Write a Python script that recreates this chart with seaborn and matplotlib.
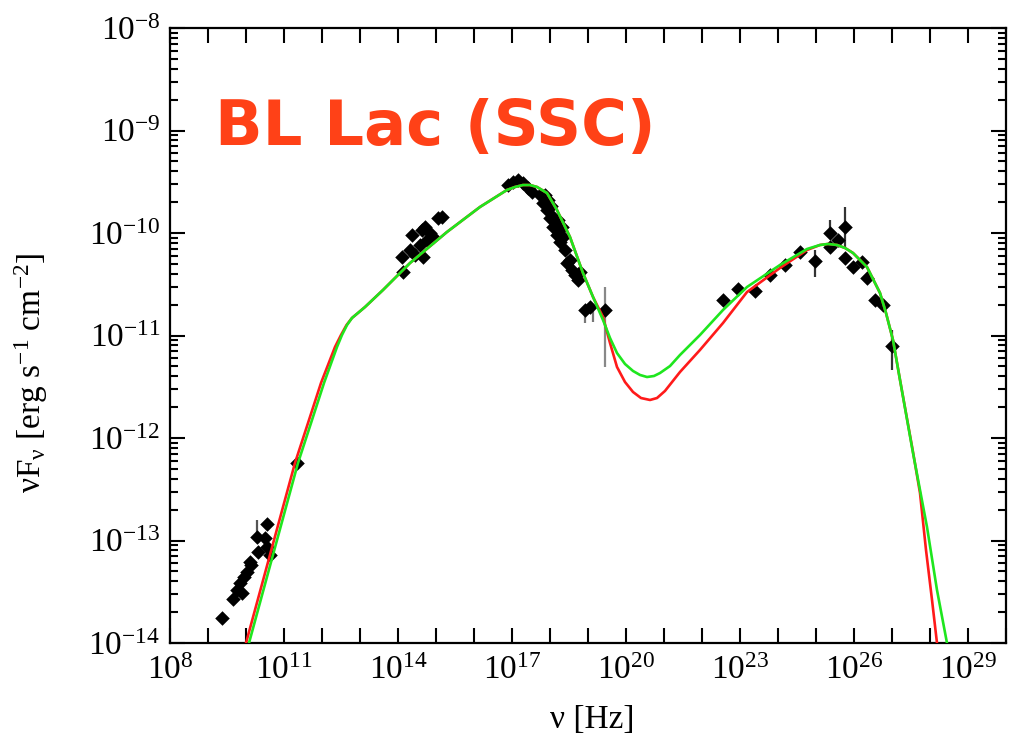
import numpy as np
import pandas as pd
import matplotlib
matplotlib.use("Agg")
import matplotlib.pyplot as plt
import seaborn as sns
from matplotlib.ticker import FixedLocator, FixedFormatter, LogLocator, NullFormatter

# SSC model curves, stored as log10(nu / Hz) and log10(nuFnu / erg s^-1 cm^-2)
green_lognu = [10.026, 10.079, 11.368, 11.711, 12.053, 12.395, 12.526, 12.658, 12.789,
               12.947, 13.132, 13.605, 14.316, 15.289, 16.158, 16.868, 17.079, 17.289,
               17.474, 17.658, 17.921, 18.184, 18.526, 18.868, 19.132, 19.395, 19.579,
               19.763, 19.974, 20.184, 20.368, 20.553, 20.737, 20.895, 21.158, 21.421,
               21.947, 22.553, 23.184, 24.053, 24.763, 25.105, 25.316, 25.553, 25.763,
               25.974, 26.342, 26.684, 26.842, 27.026, 27.211, 27.553, 27.921, 28.184,
               28.447, 28.526]
green_logf = [-14.068, -14.0, -12.244, -11.854, -11.463, -11.112, -10.995, -10.898, -10.829,
              -10.780, -10.722, -10.556, -10.293, -9.990, -9.746, -9.580, -9.551, -9.532,
              -9.532, -9.551, -9.610, -9.776, -10.039, -10.390, -10.624, -10.849, -11.024,
              -11.171, -11.278, -11.346, -11.385, -11.405, -11.395, -11.366, -11.298, -11.190,
              -10.995, -10.751, -10.527, -10.312, -10.156, -10.117, -10.107, -10.117, -10.146,
              -10.195, -10.332, -10.585, -10.780, -11.044, -11.434, -12.146, -12.868, -13.483,
              -14.0, -14.166]

red_lognu = [9.947, 10.0, 11.289, 11.632, 11.974, 12.342, 12.500, 12.645, 12.789,
             12.947, 13.132, 13.605, 14.316, 15.289, 16.158, 16.868, 17.079, 17.289,
             17.474, 17.658, 17.921, 18.184, 18.526, 18.868, 19.132, 19.395, 19.579,
             19.763, 19.974, 20.184, 20.395, 20.632, 20.816, 21.026, 21.421, 21.947,
             22.553, 23.184, 24.053, 24.763, 25.105, 25.316, 25.553, 25.763, 25.974,
             26.342, 26.684, 26.842, 27.026, 27.211, 27.553, 27.737, 27.895, 28.053,
             28.184, 28.237]
red_logf = [-14.068, -14.0, -12.244, -11.854, -11.463, -11.112, -10.995, -10.898, -10.829,
            -10.780, -10.722, -10.556, -10.293, -9.990, -9.746, -9.580, -9.551, -9.532,
            -9.532, -9.551, -9.610, -9.776, -10.039, -10.390, -10.624, -10.820, -11.073,
            -11.307, -11.454, -11.551, -11.610, -11.629, -11.610, -11.541, -11.356, -11.141,
            -10.878, -10.576, -10.341, -10.166, -10.117, -10.107, -10.117, -10.146, -10.195,
            -10.332, -10.585, -10.780, -11.044, -11.434, -12.137, -12.537, -13.093, -13.580,
            -14.0, -14.166]

# Observed SED points (radio, optical, X-ray, gamma-ray)
obs_lognu = [9.368, 9.658, 9.763, 9.895, 9.842, 9.947, 10.026, 10.132, 10.105, 10.316,
             10.289, 10.553, 10.5, 10.632, 10.553, 11.342,
             14.132, 14.105, 14.316, 14.368, 14.632, 14.711, 14.763, 14.842, 14.579,
             14.447, 15.053, 15.158, 14.921, 14.658,
             16.895, 17.026, 17.158, 17.289, 17.421, 17.526, 17.737, 17.816, 17.921,
             18.0, 18.079, 18.184, 18.263, 18.342, 18.316, 18.211, 18.447, 18.579,
             18.658, 18.737, 18.789, 18.526, 18.079, 17.947, 17.868, 18.026, 18.158,
             18.237, 18.395, 18.921, 19.053, 19.447,
             22.553, 22.947, 23.395, 23.789, 24.184, 24.579, 24.974, 25.368, 25.368,
             25.579, 25.763, 25.763, 25.974, 26.211, 26.342, 26.553, 26.763, 27.0]
obs_logf = [-13.756, -13.571, -13.483, -13.512, -13.415, -13.356, -13.307, -13.239, -13.210, -13.112,
            -12.966, -12.839, -12.976, -13.141, -13.063, -12.244,
            -10.380, -10.234, -10.166, -10.020, -9.971, -9.941, -10.068, -10.0, -10.117,
            -10.215, -9.854, -9.844, -10.039, -10.234,
            -9.532, -9.502, -9.483, -9.512, -9.561, -9.600, -9.629, -9.707, -9.776,
            -9.854, -9.941, -10.020, -10.088, -10.039, -9.941, -9.873, -10.293, -10.361,
            -10.410, -10.459, -10.380, -10.263, -9.844, -9.678, -9.629, -9.737, -9.893,
            -9.971, -10.166, -10.751, -10.722, -10.751,
            -10.654, -10.546, -10.566, -10.410, -10.312, -10.185, -10.273, -10.0, -10.137,
            -10.068, -9.941, -10.244, -10.332, -10.283, -10.439, -10.654, -10.702, -11.102]

# Vertical error bars: frequency, lower and upper flux bounds (log10)
err_lognu = [10.289, 18.921, 19.132, 19.447, 24.974, 25.368, 25.763, 27.0]
err_lo = [-12.995, -10.878, -10.868, -11.307, -10.429, -10.0, -10.137, -11.337]
err_hi = [-12.800, -10.702, -10.722, -10.527, -10.166, -9.873, -9.746, -10.946]
err_colors = ["#555555", "#777777", "#777777", "#888888", "#333333", "#333333", "#333333", "#333333"]

# Axis decades
x_major_exps = list(range(8, 31))
x_label_exps = list(range(8, 30, 3))
y_major_exps = list(range(-14, -7))

title_text = "BL Lac (SSC)"

sns.set_theme(style="ticks")
plt.rcParams.update({
    "font.family": ["Liberation Serif", "DejaVu Serif"],
    "mathtext.fontset": "custom",
    "mathtext.rm": "Liberation Serif",
    "mathtext.it": "Liberation Serif:italic",
    "mathtext.bf": "Liberation Serif:bold",
    "axes.linewidth": 1.6,
    "axes.edgecolor": "black",
})

fig = plt.figure(figsize=(10.2, 7.39), dpi=100)
ax = fig.add_axes([170 / 1020, 1 - 643 / 739, 836 / 1020, 615 / 739])
ax.set_xscale("log")
ax.set_yscale("log")

green = pd.DataFrame({"nu": np.power(10.0, green_lognu), "f": np.power(10.0, green_logf)})
red = pd.DataFrame({"nu": np.power(10.0, red_lognu), "f": np.power(10.0, red_logf)})
obs = pd.DataFrame({"nu": np.power(10.0, obs_lognu), "f": np.power(10.0, obs_logf)})

ax.vlines(np.power(10.0, err_lognu), np.power(10.0, err_lo), np.power(10.0, err_hi),
          colors=err_colors, linewidth=1.6, zorder=2)
sns.scatterplot(data=obs, x="nu", y="f", marker="D", s=55, color="black",
                linewidth=0, ax=ax, zorder=3)
sns.lineplot(data=red, x="nu", y="f", color="#ff1a1a", linewidth=1.9,
             estimator=None, sort=False, ax=ax, zorder=4)
sns.lineplot(data=green, x="nu", y="f", color="#1ee61e", linewidth=1.9,
             estimator=None, sort=False, ax=ax, zorder=5)

ax.set_xlim(1e8, 1e30)
ax.set_ylim(1e-14, 1e-8)

ax.xaxis.set_major_locator(FixedLocator([10.0 ** k for k in x_major_exps]))
ax.xaxis.set_major_formatter(FixedFormatter(
    [(r"$10^{%d}$" % k) if k in x_label_exps else "" for k in x_major_exps]))
ax.xaxis.set_minor_locator(FixedLocator([]))
ax.yaxis.set_major_locator(FixedLocator([10.0 ** k for k in y_major_exps]))
ax.yaxis.set_major_formatter(FixedFormatter([r"$10^{%d}$" % k for k in y_major_exps]))
ax.yaxis.set_minor_locator(LogLocator(base=10, subs=np.arange(2, 10), numticks=50))
ax.yaxis.set_minor_formatter(NullFormatter())

ax.tick_params(which="both", direction="in", top=True, right=True, color="black",
               width=1.5, labelsize=24, labelcolor="black")
ax.tick_params(which="major", length=11)
ax.tick_params(which="minor", length=6)
ax.tick_params(axis="x", pad=9)
ax.tick_params(axis="y", pad=7)

ax.set_xlabel("ν [Hz]", fontsize=24, color="black")
ax.set_ylabel(r"νF$_{\mathrm{ν}}$ [erg s$^{-1}$ cm$^{-2}$]", fontsize=24, color="black")
ax.xaxis.set_label_coords(0.505, -0.1)
ax.yaxis.set_label_coords(-0.143, 0.44)

for side in ax.spines.values():
    side.set_visible(True)
    side.set_color("black")
    side.set_linewidth(1.6)

fig.text(215 / 1020, 1 - 145 / 739, title_text, color="#ff4117", fontsize=45,
         family="DejaVu Sans", fontweight="bold", ha="left", va="baseline")

fig.savefig("out.png", dpi=100, facecolor="white")
